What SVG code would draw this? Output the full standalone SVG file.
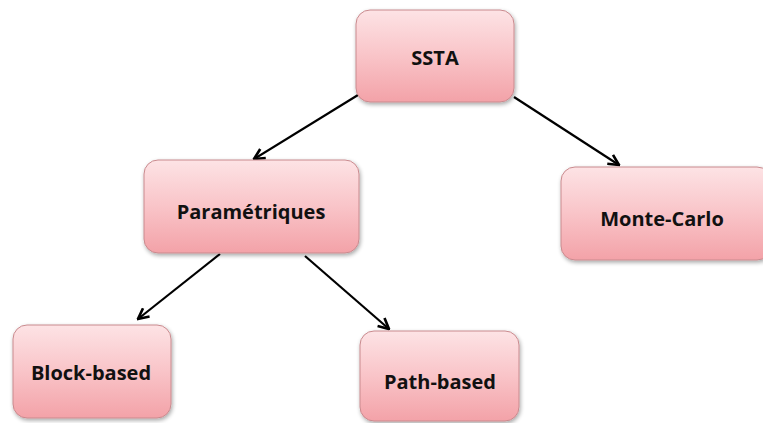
<svg xmlns="http://www.w3.org/2000/svg" width="763" height="423" viewBox="0 0 763 423">
<defs>
<linearGradient id="g" x1="0" y1="0" x2="0" y2="1">
<stop offset="0" stop-color="#fde3e5"/>
<stop offset="0.5" stop-color="#f9c4c8"/>
<stop offset="1" stop-color="#f3a2a8"/>
</linearGradient>
<filter id="sh" x="-10%" y="-10%" width="130%" height="130%">
<feGaussianBlur in="SourceAlpha" stdDeviation="2"/>
<feOffset dx="1" dy="2" result="b"/>
<feComponentTransfer><feFuncA type="linear" slope="0.35"/></feComponentTransfer>
<feMerge><feMergeNode/><feMergeNode in="SourceGraphic"/></feMerge>
</filter>
<marker id="ah" viewBox="0 0 10 10" refX="9" refY="5" markerWidth="6" markerHeight="6" orient="auto" markerUnits="strokeWidth">
<path d="M1,1 L9,5 L1,9" fill="none" stroke="#000" stroke-width="2"/>
</marker>
</defs>
<style>
.box{fill:url(#g);stroke:#c98a8e;stroke-width:1;filter:url(#sh)}
.lbl{font-family:"Open Sans","Liberation Sans",sans-serif;font-weight:bold;font-size:20px;fill:#111;text-anchor:middle;dominant-baseline:central}
.con{stroke:#000;stroke-width:2.2;fill:none;marker-end:url(#ah)}
</style>
<rect width="763" height="423" fill="#fff"/>
<g id="connectors">
<line class="con" x1="358" y1="95" x2="254" y2="159"/>
<line class="con" x1="514" y1="97" x2="619" y2="165"/>
<line class="con" x1="220" y1="254" x2="138" y2="319"/>
<line class="con" x1="305" y1="256" x2="389" y2="329"/>
</g>
<g id="n-ssta">
<rect class="box" x="356" y="10" width="158" height="92" rx="14"/>
<text class="lbl" x="435" y="57">SSTA</text>
</g>
<g id="n-param">
<rect class="box" x="144" y="160" width="215" height="93" rx="14"/>
<text class="lbl" x="251" y="211">Paramétriques</text>
</g>
<g id="n-monte">
<rect class="box" x="561" y="167" width="210" height="93" rx="14"/>
<text class="lbl" x="662" y="218">Monte-Carlo</text>
</g>
<g id="n-block">
<rect class="box" x="13" y="325" width="158" height="93" rx="14"/>
<text class="lbl" x="91" y="372">Block-based</text>
</g>
<g id="n-path">
<rect class="box" x="360" y="331" width="159" height="90" rx="14"/>
<text class="lbl" x="440" y="381">Path-based</text>
</g>
</svg>
